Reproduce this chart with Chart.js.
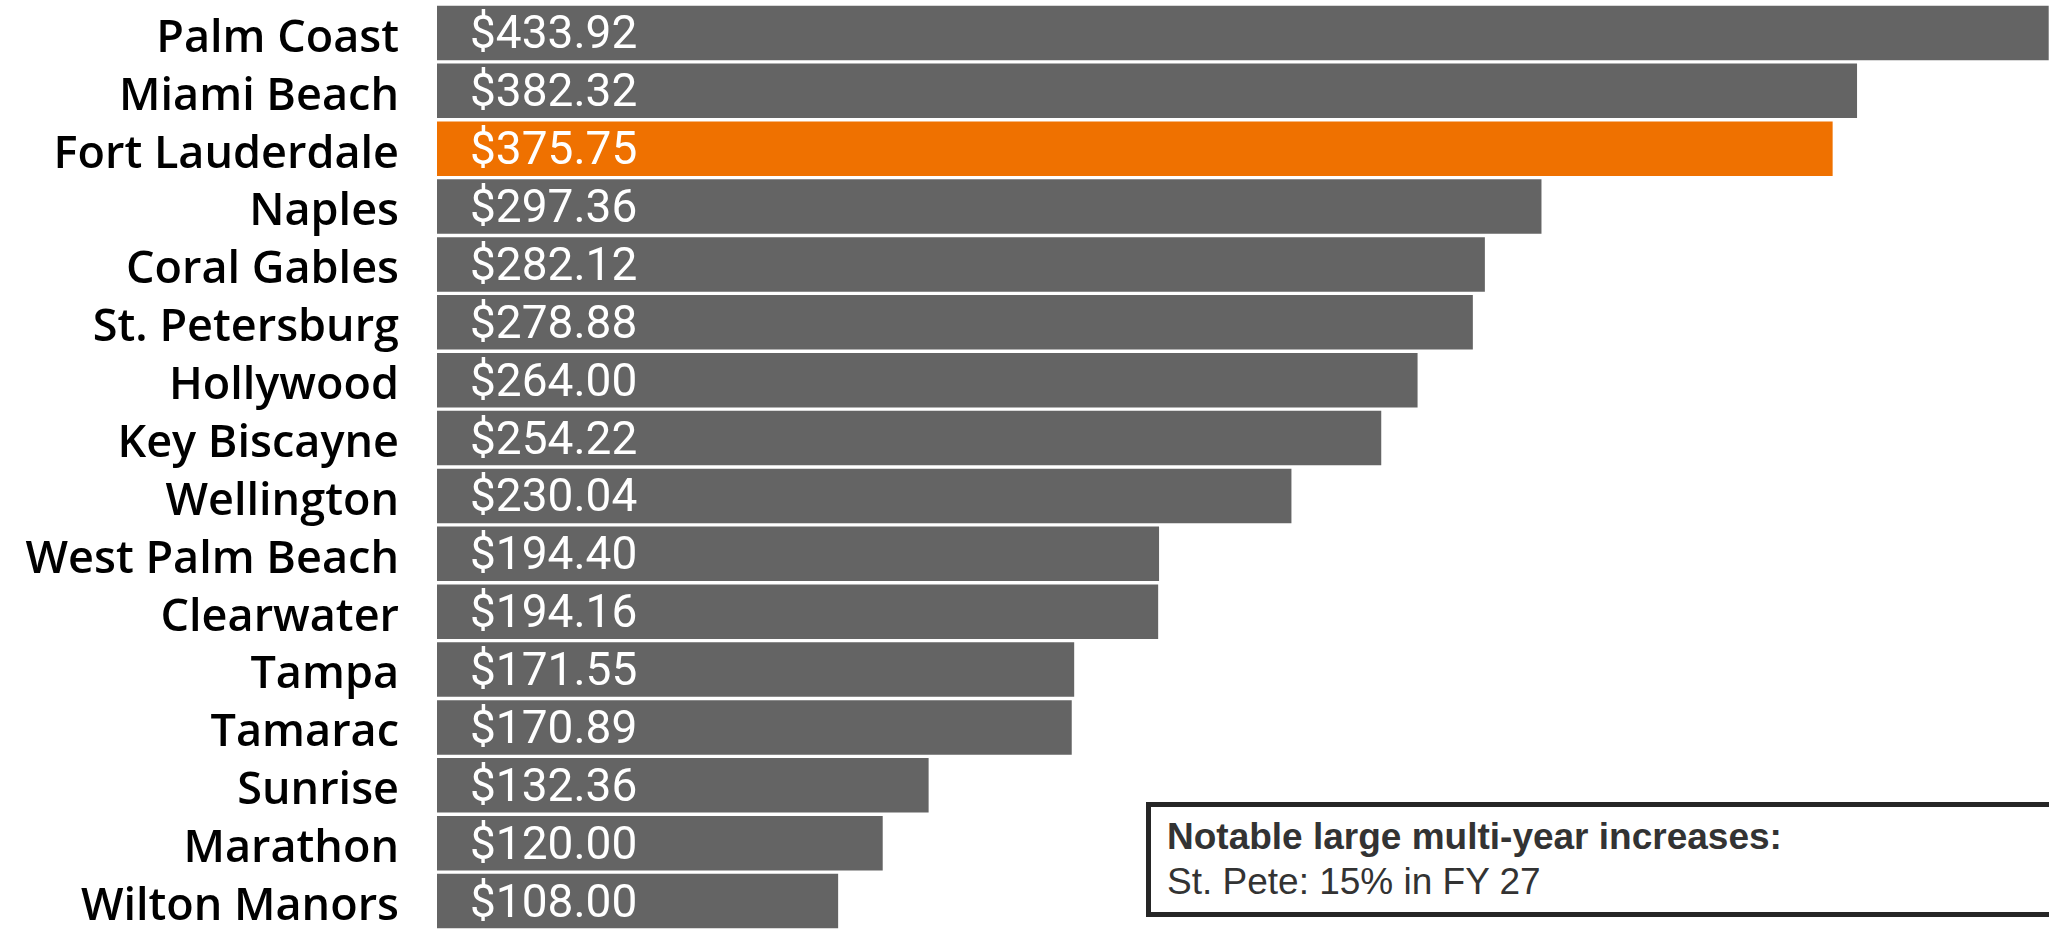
<!DOCTYPE html>
<html>
<head>
<meta charset="utf-8">
<script src="https://cdn.jsdelivr.net/npm/chart.js@4.4.1/dist/chart.umd.min.js"></script>
<style>
  html, body { margin: 0; padding: 0; background: #fff; }
  #wrap { position: relative; width: 2049px; height: 930px; overflow: hidden; }
  #note {
    position: absolute; left: 1146px; top: 802px; width: 940px; height: 115px;
    border: 5px solid #262626; box-sizing: border-box; background: #fff;
    font-family: "Liberation Sans", Arial, sans-serif; font-size: 37px; color: #333;
    padding: 7px 0 0 16px; line-height: 45px;
  }
  #note b { font-weight: bold; }
</style>
</head>
<body>
<div id="wrap">
  <canvas id="myChart" width="2049" height="930"></canvas>
  <div id="note"><b>Notable large multi-year increases:</b><br>St. Pete: 15% in FY 27</div>
</div>
<script>
var cities = ["Palm Coast", "Miami Beach", "Fort Lauderdale", "Naples", "Coral Gables", "St. Petersburg",
  "Hollywood", "Key Biscayne", "Wellington", "West Palm Beach", "Clearwater", "Tampa", "Tamarac",
  "Sunrise", "Marathon", "Wilton Manors"];
var rates = [433.92, 382.32, 375.75, 297.36, 282.12, 278.88, 264.00, 254.22, 230.04, 194.40, 194.16,
  171.55, 170.89, 132.36, 120.00, 108.00];
var highlight = "Fort Lauderdale";

var barColors = cities.map(function (c) { return c === highlight ? "#EF7100" : "#646464"; });

// white dollar amounts inside each bar
var valueLabels = {
  id: "valueLabels",
  afterDatasetsDraw: function (chart) {
    var ctx = chart.ctx;
    var meta = chart.getDatasetMeta(0);
    ctx.save();
    ctx.fillStyle = "#fff";
    ctx.font = "46px Roboto, sans-serif";
    ctx.textBaseline = "middle";
    ctx.textAlign = "left";
    meta.data.forEach(function (bar, i) {
      ctx.fillText("$" + rates[i].toFixed(2), bar.base + 33, bar.y + 4);
    });
    ctx.restore();
  }
};

var ctx = document.getElementById("myChart").getContext("2d");
var myChart = new Chart(ctx, {
  type: "bar",
  data: {
    labels: cities,
    datasets: [{
      data: rates,
      backgroundColor: barColors,
      borderWidth: 0,
      barPercentage: 0.94,
      categoryPercentage: 1
    }]
  },
  options: {
    indexAxis: "y",
    responsive: false,
    animation: false,
    layout: { padding: { top: 4, right: 0, bottom: -7, left: 0 } },
    plugins: { legend: { display: false }, tooltip: { enabled: false } },
    scales: {
      x: { display: false, min: 0, max: 434 },
      y: {
        grid: { display: false },
        border: { display: false },
        ticks: {
          color: "#000",
          font: { family: "'Open Sans', sans-serif", size: 45, weight: 600 },
          padding: 30,
          labelOffset: 6
        },
        afterFit: function (scale) {
          scale.width = 437;
          scale.paddingTop = 0;
          scale.paddingBottom = 0;
        }
      }
    }
  },
  plugins: [valueLabels]
});
</script>
</body>
</html>
